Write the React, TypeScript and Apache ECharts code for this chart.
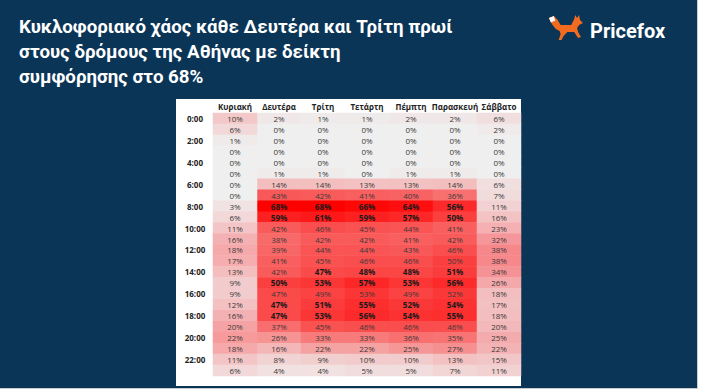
import React, { useEffect, useRef } from "react";
import * as echarts from "echarts";

const days = ["Κυριακή", "Δευτέρα", "Τρίτη", "Τετάρτη", "Πέμπτη", "Παρασκευή", "Σάββατο"];
const hours = [
  "0:00", "1:00", "2:00", "3:00", "4:00", "5:00", "6:00", "7:00", "8:00", "9:00", "10:00", "11:00",
  "12:00", "13:00", "14:00", "15:00", "16:00", "17:00", "18:00", "19:00", "20:00", "21:00", "22:00", "23:00",
];

const sunday = [10, 6, 1, 0, 0, 0, 0, 0, 3, 6, 11, 16, 18, 17, 13, 9, 9, 12, 16, 20, 22, 18, 11, 6];
const monday = [2, 0, 0, 0, 0, 1, 14, 43, 68, 59, 42, 38, 39, 41, 42, 50, 47, 47, 47, 37, 26, 16, 8, 4];
const tuesday = [1, 0, 0, 0, 0, 1, 14, 42, 68, 61, 46, 42, 44, 45, 47, 53, 49, 51, 53, 45, 33, 22, 9, 4];
const wednesday = [1, 0, 0, 0, 0, 0, 13, 41, 66, 59, 45, 42, 44, 46, 48, 57, 53, 55, 56, 46, 33, 22, 10, 5];
const thursday = [2, 0, 0, 0, 0, 1, 13, 40, 64, 57, 44, 41, 43, 46, 48, 53, 49, 52, 54, 46, 36, 25, 10, 5];
const friday = [2, 0, 0, 0, 0, 1, 14, 36, 56, 50, 41, 42, 46, 50, 51, 56, 52, 54, 55, 46, 35, 27, 13, 7];
const saturday = [6, 2, 0, 0, 0, 0, 6, 7, 11, 16, 23, 32, 38, 38, 34, 26, 18, 17, 18, 20, 25, 22, 15, 11];

// rows whose peak values are highlighted in bold in the source table
const boldRows = [8, 9, 14, 15, 17, 18];
const boldMin = 47;

const titleText = "Κυκλοφοριακό χάος κάθε Δευτέρα και Τρίτη πρωί\nστους δρόμους της Αθήνας με δείκτη\nσυμφόρησης στο 68%";
const brand = "Pricefox";

const foxBody =
  "M1 3 L6 1 L10 5 L13 10 L24 10 L27 4 L28 0 L30 3 L32 0 L33 5 L36 8 L32 10 L30 13 L31 17 L34 22 L31 23 L27 17 L20 17 L16 21 L14 25 L11 25 L13 19 L12 16 L8 14 L4 9 Z";
const foxTip = "M1 3 L6 1 L7.5 5.5 L3 7.5 Z";

let registered = false;
function registerShapes() {
  if (registered) return;
  echarts.graphic.registerShape("foxBody", echarts.graphic.extendPath(foxBody, {}));
  echarts.graphic.registerShape("foxTip", echarts.graphic.extendPath(foxTip, {}));
  registered = true;
}

function cells(values: number[], dayIndex: number, allowBold: boolean) {
  return values.map((v, h) => {
    const bold = allowBold && boldRows.includes(h) && v >= boldMin;
    return {
      value: [dayIndex, h, v],
      label: bold ? { fontWeight: "bold", color: "#1a1a1a" } : undefined,
    };
  });
}

export default function App() {
  const ref = useRef<HTMLDivElement>(null);
  useEffect(() => {
    document.body.style.margin = "0";
    registerShapes();
    const chart = echarts.init(ref.current!, null, { renderer: "svg" });
    const weekdays = [monday, tuesday, wednesday, thursday, friday];
    const weekdayData = weekdays.flatMap((arr, i) => cells(arr, i + 1, true));
    const labelCfg = {
      show: true,
      formatter: (p: any) => p.value[2] + "%",
      fontSize: 8,
      color: "#3a3a3a",
      fontFamily: "Open Sans",
    };
    const base = {
      type: "heatmap",
      label: labelCfg,
      emphasis: { disabled: true },
      itemStyle: { borderWidth: 0 },
    };
    chart.setOption({
      animation: false,
      backgroundColor: "#0a3557",
      title: {
        text: titleText,
        left: 14,
        top: 9,
        textStyle: {
          color: "#ffffff",
          fontSize: 18.7,
          fontWeight: "bold",
          fontFamily: "Roboto",
          lineHeight: 25,
        },
      },
      graphic: {
        elements: [
          { type: "rect", z: -1, shape: { x: 176, y: 99, width: 345, height: 287 }, style: { fill: "#ffffff" } },
          { type: "line", z: -1, shape: { x1: 697.5, y1: 0, x2: 697.5, y2: 389 }, style: { stroke: "#c8ccd0", lineWidth: 1 } },
          { type: "rect", z: -1, shape: { x: 698, y: 0, width: 3, height: 392 }, style: { fill: "#ffffff" } },
          { type: "line", z: -1, shape: { x1: 0, y1: 388.5, x2: 698, y2: 388.5 }, style: { stroke: "#c8ccd0", lineWidth: 1 } },
          { type: "rect", z: -1, shape: { x: 0, y: 389, width: 701, height: 3 }, style: { fill: "#ffffff" } },
          { type: "foxBody", x: 548, y: 15, scaleX: 0.97, scaleY: 1, style: { fill: "#f26b1f" } },
          { type: "foxTip", x: 548, y: 15, scaleX: 0.97, scaleY: 1, style: { fill: "#ffffff" } },
          {
            type: "text",
            x: 590,
            y: 31,
            style: {
              text: brand,
              fill: "#ffffff",
              fontSize: 20,
              fontWeight: "bold",
              fontFamily: "Roboto",
              verticalAlign: "middle",
            },
          },
        ],
      },
      grid: { left: 213, top: 113, width: 308, height: 263 },
      xAxis: {
        type: "category",
        data: days,
        position: "top",
        axisLine: { show: false },
        axisTick: { show: false },
        splitLine: { show: false },
        axisLabel: { interval: 0, fontSize: 8, fontWeight: "bold", color: "#222222", margin: 3, fontFamily: "Open Sans" },
      },
      yAxis: {
        type: "category",
        data: hours,
        inverse: true,
        axisLine: { show: false },
        axisTick: { show: false },
        splitLine: { show: false },
        axisLabel: { interval: 1, fontSize: 8, fontWeight: "bold", color: "#222222", margin: 18, align: "center", fontFamily: "Open Sans" },
      },
      visualMap: [
        { type: "continuous", show: false, seriesIndex: 0, dimension: 2, min: 0, max: 68, inRange: { color: ["#f0efef", "#ff0000"] } },
        { type: "continuous", show: false, seriesIndex: 1, dimension: 2, min: 0, max: 22, inRange: { color: ["#f0efef", "#f69a9c"] } },
        { type: "continuous", show: false, seriesIndex: 2, dimension: 2, min: 0, max: 38, inRange: { color: ["#f0efef", "#f6878a"] } },
      ],
      series: [
        { ...base, name: "weekdays", data: weekdayData },
        { ...base, name: "sunday", data: cells(sunday, 0, false) },
        { ...base, name: "saturday", data: cells(saturday, 6, false) },
      ],
    });
    return () => chart.dispose();
  }, []);
  return <div ref={ref} style={{ width: 701, height: 392 }} />;
}
